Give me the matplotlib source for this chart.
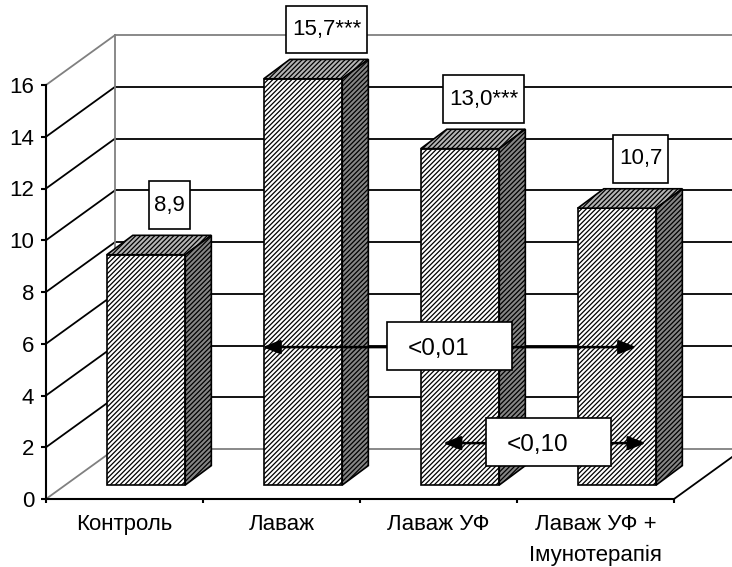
import matplotlib.pyplot as plt
import numpy as np
from matplotlib.patches import Polygon, Rectangle
from matplotlib.path import Path

# data
categories = ['Контроль', 'Лаваж', 'Лаваж УФ', 'Лаваж УФ +\nІмунотерапія']
values = [8.9, 15.7, 13.0, 10.7]
value_labels = ['8,9', '15,7***', '13,0***', '10,7']
yticks = [0, 2, 4, 6, 8, 10, 12, 14, 16]

# p-value brackets: text, arrow level, arrow span (category units)
p_texts = ['<0,01', '<0,10']
p_levels = [5.87, 2.16]
p_spans = [(0.88, 3.26), (2.03, 3.32)]
# box around each p-value: (x0, x1, y0, y1) and text left edge
p_boxes = [(1.672, 2.468, 4.99, 6.84), (2.303, 3.099, 1.275, 3.13)]
p_text_x = [1.806, 2.436]

plt.rcParams['font.family'] = ['Liberation Sans', 'DejaVu Sans']
plt.rcParams['hatch.linewidth'] = 0.9

fig = plt.figure(figsize=(7.32, 5.67), dpi=100)
ax = fig.add_axes([46 / 732, 68 / 567, 628 / 732, 414 / 567])
ax.set_xlim(-0.5, 3.5)
ax.set_ylim(0, 16)
ax.patch.set_visible(False)

# fake 3d depth
wall_dx, wall_dy = 0.44, 1.93
bar_dx, bar_dy = 0.166, 0.75
bar_shift, bar_w, bar_z = 0.137, 0.5, 0.54
gray = '#808080'
hatch = '///////'

# side wall, back wall, floor
for k in yticks:
    c = gray if k in (0, 16) else 'black'
    ax.plot([-0.5, -0.5 + wall_dx], [k, k + wall_dy], color=c, lw=1.3,
            clip_on=False, zorder=1)
    ax.plot([-0.5 + wall_dx, 3.5 + wall_dx + 0.2], [k + wall_dy] * 2, color=c,
            lw=1.3, clip_on=False, zorder=1)
ax.plot([-0.5 + wall_dx] * 2, [wall_dy, 16 + wall_dy], color=gray, lw=1.3,
        clip_on=False, zorder=1)
ax.plot([3.5, 3.5 + wall_dx], [0, wall_dy], color='black', lw=1.3,
        clip_on=False, zorder=1)

# bars: front face + top + side
x = np.arange(len(categories))
ax.bar(x + bar_shift, values, bar_w, bottom=bar_z, facecolor='white',
       edgecolor='black', hatch=hatch, lw=1.2, zorder=3, clip_on=False)
for xi, v in zip(x, values):
    l = xi + bar_shift - bar_w / 2
    r = l + bar_w
    t = bar_z + v
    top = [(l, t), (r, t), (r + bar_dx, t + bar_dy), (l + bar_dx, t + bar_dy)]
    side = [(r, bar_z), (r + bar_dx, bar_z + bar_dy), (r + bar_dx, t + bar_dy), (r, t)]
    ax.add_patch(Polygon(top, facecolor='#b4b4b4', edgecolor='black',
                         hatch=hatch, lw=1.2, zorder=3, clip_on=False))
    ax.add_patch(Polygon(side, facecolor='#858585', edgecolor='black',
                         hatch=hatch, lw=1.2, zorder=3, clip_on=False))


def value_box(x0, y0, width, height, mutation_size):
    px = 0.25 * mutation_size
    py = 0.6 * mutation_size
    x0, y0 = x0 - px, y0 - py
    x1, y1 = x0 + width + 2 * px, y0 + height + 2 * py
    return Path([(x0, y0), (x1, y0), (x1, y1), (x0, y1), (x0, y0)], closed=True)


for xi, v, lab in zip(x, values, value_labels):
    ax.text(xi + bar_shift + 0.15, v + 2.45, lab, ha='center', va='center',
            fontsize=16, zorder=6, clip_on=False,
            bbox=dict(boxstyle=value_box, facecolor='white', edgecolor='black',
                      lw=1.2))

# p-value arrows and boxes
for txt, lev, (xa, xb), (bx0, bx1, by0, by1), tx in zip(
        p_texts, p_levels, p_spans, p_boxes, p_text_x):
    ax.annotate('', xy=(xb, lev), xytext=(xa, lev), annotation_clip=False,
                arrowprops=dict(arrowstyle='<|-|>,head_length=0.5,head_width=0.2',
                                color='black', lw=1.8, mutation_scale=21,
                                shrinkA=0, shrinkB=0), zorder=6)
    ax.add_patch(Rectangle((bx0, by0), bx1 - bx0, by1 - by0, facecolor='white',
                           edgecolor='black', lw=1.2, zorder=7, clip_on=False))
    ax.text(tx, (by0 + by1) / 2 - 0.1, txt, ha='left', va='center',
            fontsize=17.5, zorder=8)

# axes
for s in ['top', 'right']:
    ax.spines[s].set_visible(False)
for s in ['left', 'bottom']:
    ax.spines[s].set_linewidth(1.5)
    ax.spines[s].set_zorder(2)
ax.set_yticks(yticks)
ax.set_yticklabels([str(t) for t in yticks], fontsize=16)
ax.tick_params(axis='y', direction='out', length=3.6, width=1.5, pad=5)
ax.set_xticks(np.arange(-0.5, 4, 1))
ax.set_xticklabels([])
ax.tick_params(axis='x', which='major', direction='out', length=3, width=1.5)
ax.set_xticks(x, minor=True)
ax.set_xticklabels(categories, minor=True, fontsize=16, linespacing=1.6)
ax.tick_params(axis='x', which='minor', length=0, pad=11)

fig.savefig('out.png', dpi=100)
